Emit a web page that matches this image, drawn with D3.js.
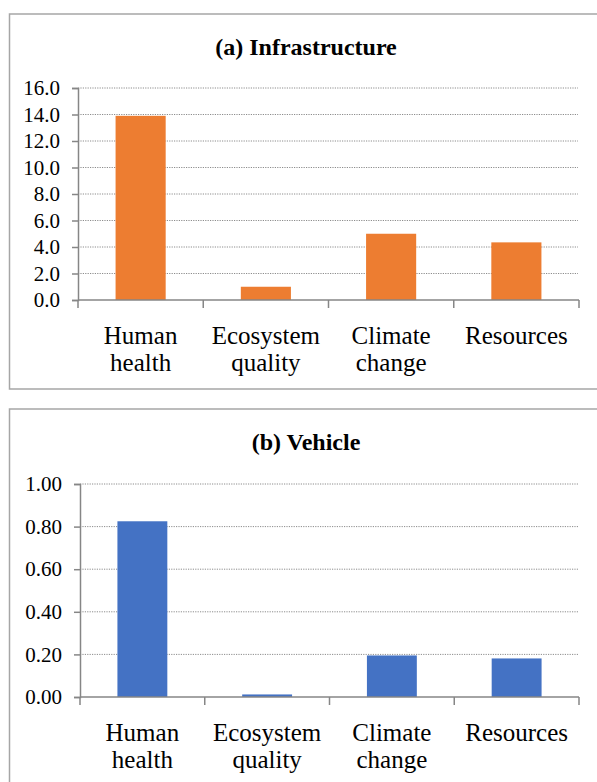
<!DOCTYPE html>
<html>
<head>
<meta charset="utf-8">
<script src="https://cdn.jsdelivr.net/npm/d3@7"></script>
<style>
  body { margin: 0; background: #fff; }
</style>
</head>
<body>
<svg id="chart"></svg>
<script>
let w = 597;
let h = 782;
const FONT = '"Liberation Serif"';

const categories = [["Human", "health"], ["Ecosystem", "quality"], ["Climate", "change"], ["Resources"]];
const infraValues = [13.9, 1.0, 5.0, 4.35];
const vehicleValues = [0.825, 0.012, 0.195, 0.181];
const infraTicks = [0, 2, 4, 6, 8, 10, 12, 14, 16];
const vehicleTicks = [0, 0.2, 0.4, 0.6, 0.8, 1.0];

const chart = d3.select('#chart')
    .attr('width', w)
    .attr('height', h)

// one panel = border box + title + bar chart
function drawPanel(opt) {
    const g = chart.append('g')

    g.append('rect')
        .attr('x', opt.box[0])
        .attr('y', opt.box[1])
        .attr('width', opt.box[2])
        .attr('height', opt.box[3])
        .style('fill', 'white')
        .style('stroke', '#a6a6a6')
        .style('stroke-width', 1.5)

    g.append('text')
        .attr('x', 306)
        .attr('y', opt.titleY)
        .attr('text-anchor', 'middle')
        .style('font-family', FONT)
        .style('font-size', '24px')
        .style('font-weight', 'bold')
        .text(opt.title)

    const x = d3.scaleBand()
        .domain(d3.range(categories.length))
        .range([opt.left, 579])
        .paddingInner(0.6)
        .paddingOuter(0.3)

    const y = d3.scaleLinear()
        .domain([0, opt.max])
        .range([opt.bottom, opt.top])

    // dotted gridlines
    g.selectAll('.grid')
        .data(opt.ticks.filter(t => t > 0))
        .enter()
        .append('line')
        .attr('x1', opt.left)
        .attr('x2', 578)
        .attr('y1', d => y(d))
        .attr('y2', d => y(d))
        .style('stroke', '#8c8c8c')
        .style('stroke-width', 1)
        .style('stroke-dasharray', '1.2,1.2')

    g.selectAll('.bar')
        .data(opt.values)
        .enter()
        .append('rect')
        .attr('x', (d, i) => x(i))
        .attr('y', d => y(d))
        .attr('width', x.bandwidth())
        .attr('height', d => y(0) - y(d))
        .style('fill', opt.color)

    // y axis
    const yAxis = d3.axisLeft(y)
        .tickValues(opt.ticks)
        .tickFormat(d3.format(opt.fmt))
        .tickSize(6)
        .tickPadding(12)
    const ya = g.append('g')
        .attr('transform', `translate(${opt.left},0)`)
        .call(yAxis)
        .attr('font-family', null)
    ya.select('.domain').style('stroke', '#868686').style('stroke-width', 1.5)
    ya.selectAll('.tick line').style('stroke', '#868686').style('stroke-width', 1.5)
    ya.selectAll('.tick text')
        .style('font-family', FONT)
        .style('font-size', '21px')
        .style('fill', '#000')

    // x axis line with category boundary ticks
    const step = x.step()
    g.append('line')
        .attr('x1', opt.left)
        .attr('x2', 579)
        .attr('y1', y(0))
        .attr('y2', y(0))
        .style('stroke', '#868686')
        .style('stroke-width', 1.5)
    g.selectAll('.xtick')
        .data(d3.range(categories.length + 1))
        .enter()
        .append('line')
        .attr('x1', i => opt.left + i * step)
        .attr('x2', i => opt.left + i * step)
        .attr('y1', y(0))
        .attr('y2', y(0) + 8)
        .style('stroke', '#868686')
        .style('stroke-width', 1.5)

    const labels = g.selectAll('.xlab')
        .data(categories)
        .enter()
        .append('text')
        .attr('text-anchor', 'middle')
        .style('font-family', FONT)
        .style('font-size', '25px')
    labels.selectAll('tspan')
        .data((d, i) => d.map(s => ({ s, i })))
        .enter()
        .append('tspan')
        .attr('x', d => x(d.i) + x.bandwidth() / 2)
        .attr('y', (d, j) => y(0) + 44 + j * 27)
        .text(d => d.s)
}

drawPanel({
    box: [9.5, 14, 620, 375],
    title: '(a) Infrastructure',
    titleY: 55,
    values: infraValues,
    ticks: infraTicks,
    max: 16,
    fmt: '.1f',
    left: 78,
    top: 88,
    bottom: 300,
    color: '#ed7d31'
})

drawPanel({
    box: [9.5, 409, 620, 390],
    title: '(b) Vehicle',
    titleY: 450,
    values: vehicleValues,
    ticks: vehicleTicks,
    max: 1.0,
    fmt: '.2f',
    left: 80,
    top: 484,
    bottom: 697,
    color: '#4472c4'
})
</script>
</body>
</html>
